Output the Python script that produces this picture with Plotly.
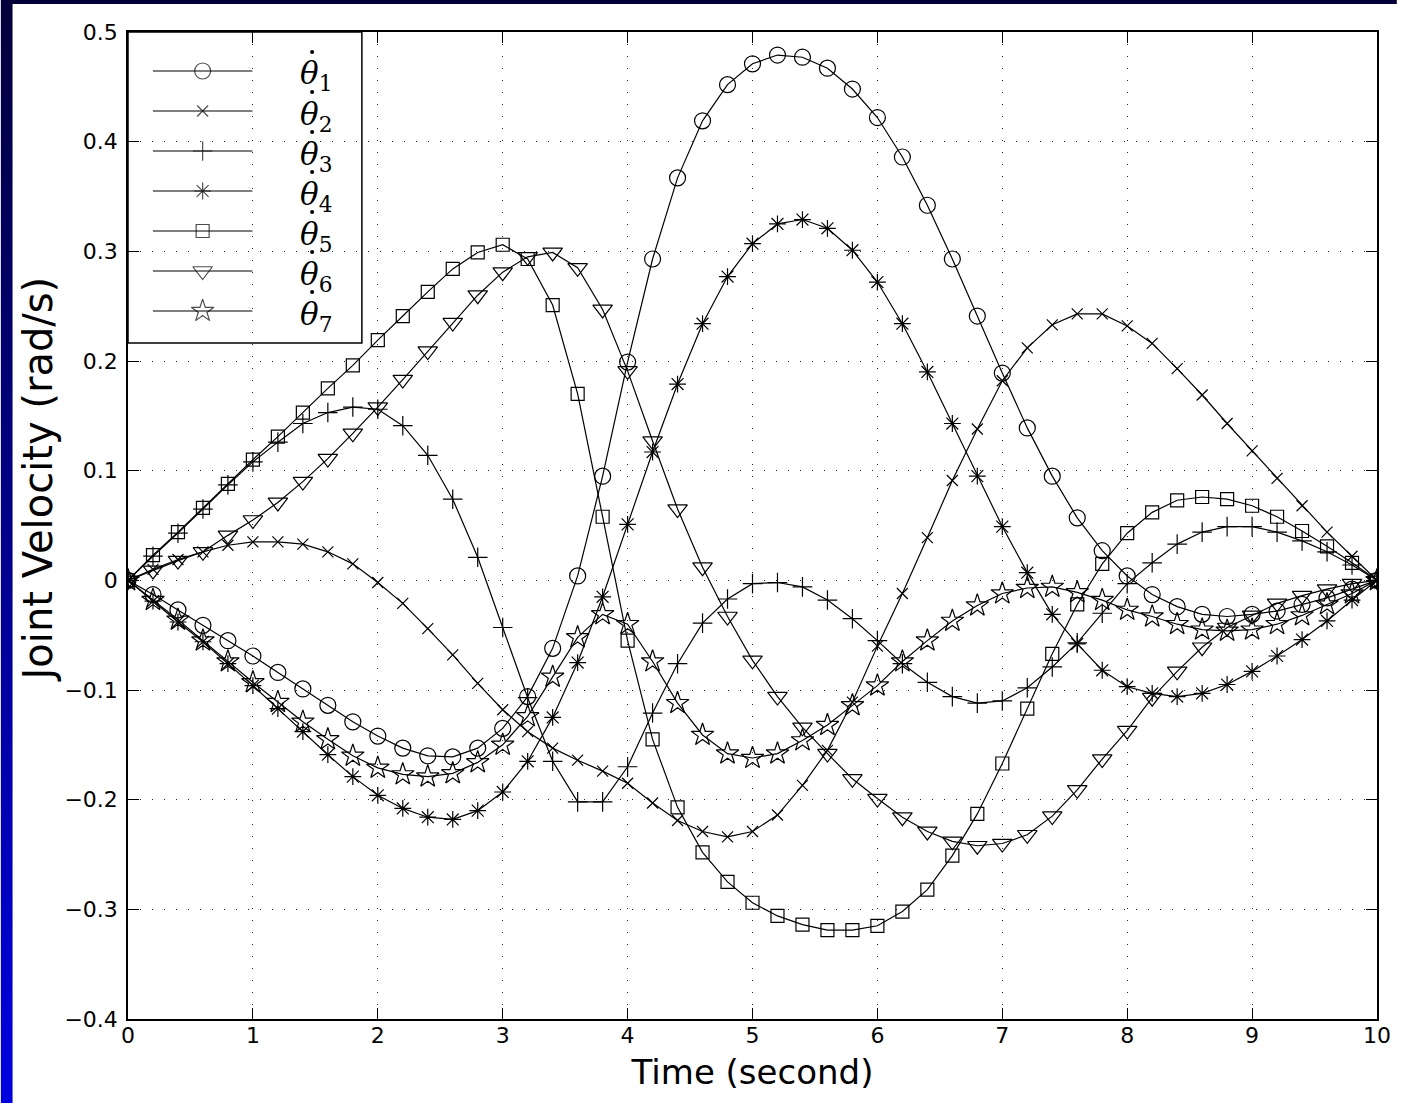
import base64

import plotly.graph_objects as go

# sample times (s)
time_s = [round(0.2 * i, 1) for i in range(51)]

theta1 = [0, -0.013, -0.027, -0.041, -0.055, -0.069, -0.084, -0.099, -0.114, -0.129,
          -0.142, -0.153, -0.160, -0.161, -0.153, -0.135, -0.106, -0.062, 0.004, 0.095,
          0.199, 0.293, 0.367, 0.419, 0.452, 0.471, 0.479, 0.477, 0.467, 0.448,
          0.422, 0.386, 0.342, 0.293, 0.241, 0.189, 0.139, 0.095, 0.057, 0.027,
          0.004, -0.013, -0.024, -0.031, -0.033, -0.031, -0.028, -0.022, -0.016, -0.008, 0]
theta2 = [0, 0.010, 0.019, 0.026, 0.032, 0.035, 0.035, 0.033, 0.026, 0.015,
          -0.002, -0.021, -0.044, -0.068, -0.094, -0.118, -0.138, -0.153, -0.164, -0.174,
          -0.185, -0.203, -0.219, -0.229, -0.234, -0.229, -0.214, -0.187, -0.155, -0.111,
          -0.060, -0.012, 0.039, 0.091, 0.138, 0.182, 0.212, 0.233, 0.243, 0.243,
          0.232, 0.216, 0.193, 0.169, 0.143, 0.118, 0.093, 0.068, 0.044, 0.022, 0]
theta3 = [0, 0.022, 0.043, 0.065, 0.087, 0.108, 0.126, 0.143, 0.153, 0.158,
          0.156, 0.141, 0.114, 0.074, 0.021, -0.043, -0.107, -0.165, -0.202, -0.202,
          -0.170, -0.121, -0.076, -0.039, -0.017, -0.003, -0.002, -0.006, -0.018, -0.035,
          -0.055, -0.076, -0.093, -0.106, -0.112, -0.110, -0.098, -0.079, -0.057, -0.030,
          -0.003, 0.016, 0.033, 0.044, 0.049, 0.049, 0.044, 0.036, 0.026, 0.014, 0]
theta4 = [0, -0.019, -0.038, -0.056, -0.076, -0.096, -0.117, -0.138, -0.159, -0.179,
          -0.196, -0.208, -0.216, -0.218, -0.210, -0.193, -0.165, -0.125, -0.075, -0.015,
          0.051, 0.117, 0.179, 0.234, 0.277, 0.307, 0.325, 0.329, 0.321, 0.301,
          0.272, 0.234, 0.190, 0.143, 0.095, 0.049, 0.007, -0.031, -0.058, -0.082,
          -0.097, -0.103, -0.106, -0.103, -0.095, -0.083, -0.069, -0.054, -0.037, -0.018, 0]
theta5 = [0, 0.023, 0.044, 0.066, 0.088, 0.110, 0.131, 0.153, 0.175, 0.196,
          0.219, 0.241, 0.263, 0.284, 0.299, 0.306, 0.293, 0.251, 0.170, 0.058,
          -0.055, -0.145, -0.207, -0.248, -0.275, -0.294, -0.306, -0.314, -0.319, -0.319,
          -0.315, -0.302, -0.282, -0.251, -0.213, -0.167, -0.117, -0.067, -0.022, 0.015,
          0.043, 0.062, 0.073, 0.076, 0.074, 0.068, 0.058, 0.045, 0.031, 0.016, 0]
theta6 = [0, 0.009, 0.018, 0.026, 0.041, 0.055, 0.071, 0.090, 0.111, 0.134,
          0.158, 0.183, 0.209, 0.235, 0.260, 0.281, 0.295, 0.299, 0.285, 0.247,
          0.191, 0.127, 0.065, 0.012, -0.033, -0.073, -0.106, -0.134, -0.158, -0.181,
          -0.199, -0.216, -0.229, -0.238, -0.242, -0.240, -0.232, -0.215, -0.191, -0.163,
          -0.137, -0.107, -0.083, -0.061, -0.043, -0.032, -0.021, -0.014, -0.008, -0.003, 0]
theta7 = [0, -0.018, -0.036, -0.055, -0.074, -0.093, -0.111, -0.129, -0.145, -0.160,
          -0.171, -0.177, -0.179, -0.176, -0.166, -0.150, -0.124, -0.088, -0.052, -0.031,
          -0.040, -0.074, -0.112, -0.141, -0.158, -0.162, -0.158, -0.146, -0.132, -0.114,
          -0.096, -0.074, -0.055, -0.037, -0.023, -0.012, -0.007, -0.006, -0.011, -0.018,
          -0.027, -0.033, -0.040, -0.045, -0.046, -0.045, -0.040, -0.032, -0.022, -0.012, 0]

series = [theta1, theta2, theta3, theta4, theta5, theta6, theta7]
labels = ["1", "2", "3", "4", "5", "6", "7"]
symbols = ["circle-open", "x-thin-open", "cross-thin-open", "asterisk-open",
           "square-open", "triangle-down-open", "star-open"]
sizes = [16, 11, 14, 14, 13, 17, 17]

W, H = 1403, 1103
ML, MR, MT, MB = 128, 20, 32, 84
PW, PH = W - ML - MR, H - MT - MB


def px_x(p):
    return (p - ML) / PW


def px_y(p):
    return (H - MB - p) / PH


fig = go.Figure()

for ys, lab, sym, sz in zip(series, labels, symbols, sizes):
    fig.add_trace(
        go.Scatter(
            x=time_s,
            y=ys,
            mode="lines+markers",
            name=f"theta{lab}",
            line=dict(color="black", width=1.2),
            marker=dict(symbol=sym, size=sz, color="black", line=dict(width=1.2, color="black")),
            showlegend=False,
        )
    )

# hand drawn legend (long line samples like the original)
row0, row_step = 71, 40
annotations = []
dot_x, dot_y = [], []
for i, (lab, sym, sz) in enumerate(zip(labels, symbols, sizes)):
    row = row0 + i * row_step
    yy = px_y(row)
    fig.add_trace(
        go.Scatter(
            x=[px_x(153), px_x(203), px_x(253)],
            y=[yy, yy, yy],
            xaxis="x2",
            yaxis="y2",
            mode="lines+markers",
            line=dict(color="black", width=1.2),
            marker=dict(symbol=sym, size=[0, sz, 0], color="black", line=dict(width=1.2, color="black")),
            showlegend=False,
            hoverinfo="skip",
            cliponaxis=False,
        )
    )
    annotations.append(
        dict(
            xref="paper", yref="paper",
            x=px_x(299), y=px_y(row + 5),
            xanchor="left", yanchor="middle",
            text=f"<i>\u03b8</i><sub>{lab}</sub>",
            showarrow=False,
            font=dict(family="DejaVu Serif", size=31, color="black"),
        )
    )
    dot_x.append(px_x(313))
    dot_y.append(px_y(row - 19))

# the time-derivative dots above each theta
fig.add_trace(
    go.Scatter(
        x=dot_x, y=dot_y, xaxis="x2", yaxis="y2", mode="markers",
        marker=dict(symbol="circle", size=4, color="black"),
        showlegend=False, hoverinfo="skip", cliponaxis=False,
    )
)

# y axis label placed like the original (slightly above the axis centre)
annotations.append(
    dict(
        xref="paper", yref="paper",
        x=px_x(38), y=px_y(479),
        xanchor="center", yanchor="middle", textangle=-90,
        text="Joint Velocity (rad/s)",
        showarrow=False,
        font=dict(family="DejaVu Sans", size=40, color="black"),
    )
)

svg = (
    '<svg xmlns="http://www.w3.org/2000/svg" width="10" height="100" viewBox="0 0 10 100" '
    'preserveAspectRatio="none"><defs><linearGradient id="g" x1="0" y1="0" x2="0" y2="1">'
    '<stop offset="0" stop-color="#03003a"/><stop offset="1" stop-color="#0000e0"/>'
    '</linearGradient></defs><rect width="10" height="100" fill="url(#g)"/></svg>'
)
bg_src = "data:image/svg+xml;base64," + base64.b64encode(svg.encode()).decode()

shapes = [
    # white figure area over the blue slide background
    dict(type="rect", xref="paper", yref="paper", layer="below",
         x0=px_x(12), x1=px_x(W + 5), y0=px_y(H + 5), y1=px_y(4),
         fillcolor="white", line=dict(width=0)),
    # legend box
    dict(type="rect", xref="paper", yref="paper", layer="between",
         x0=0, x1=px_x(363), y0=px_y(343), y1=1,
         fillcolor="white", line=dict(color="black", width=1.5)),
]

grid_style = dict(showgrid=True, gridcolor="#222222", gridwidth=1, griddash="1px,11px")
axis_style = dict(
    showline=True, linecolor="black", linewidth=1.5, mirror="allticks",
    ticks="inside", ticklen=11, tickwidth=1, tickcolor="black",
    zeroline=False,
    tickfont=dict(family="DejaVu Sans", size=22, color="black"),
    **grid_style,
)
title_font = dict(family="DejaVu Sans", size=34, color="black")

fig.update_layout(
    width=W,
    height=H,
    margin=dict(l=ML, r=MR, t=MT, b=MB),
    paper_bgcolor="white",
    plot_bgcolor="white",
    xaxis=dict(
        range=[0, 10], dtick=1, tick0=0,
        title=dict(text="Time (second)", font=title_font, standoff=13),
        ticklabelstandoff=-4,
        **axis_style,
    ),
    yaxis=dict(
        range=[-0.4, 0.5], dtick=0.1, tick0=0,
        ticklabelstandoff=4,
        **axis_style,
    ),
    xaxis2=dict(range=[0, 1], overlaying="x", visible=False),
    yaxis2=dict(range=[0, 1], overlaying="y", visible=False),
    shapes=shapes,
    annotations=annotations,
    images=[dict(source=bg_src, xref="paper", yref="paper", x=px_x(0), y=px_y(0),
                 sizex=W / PW, sizey=H / PH, xanchor="left", yanchor="top",
                 sizing="stretch", layer="below")],
    showlegend=False,
)

fig.write_html(
    "out.html",
    config={"displayModeBar": False},
    post_script="document.body.style.margin='0px';",
)
